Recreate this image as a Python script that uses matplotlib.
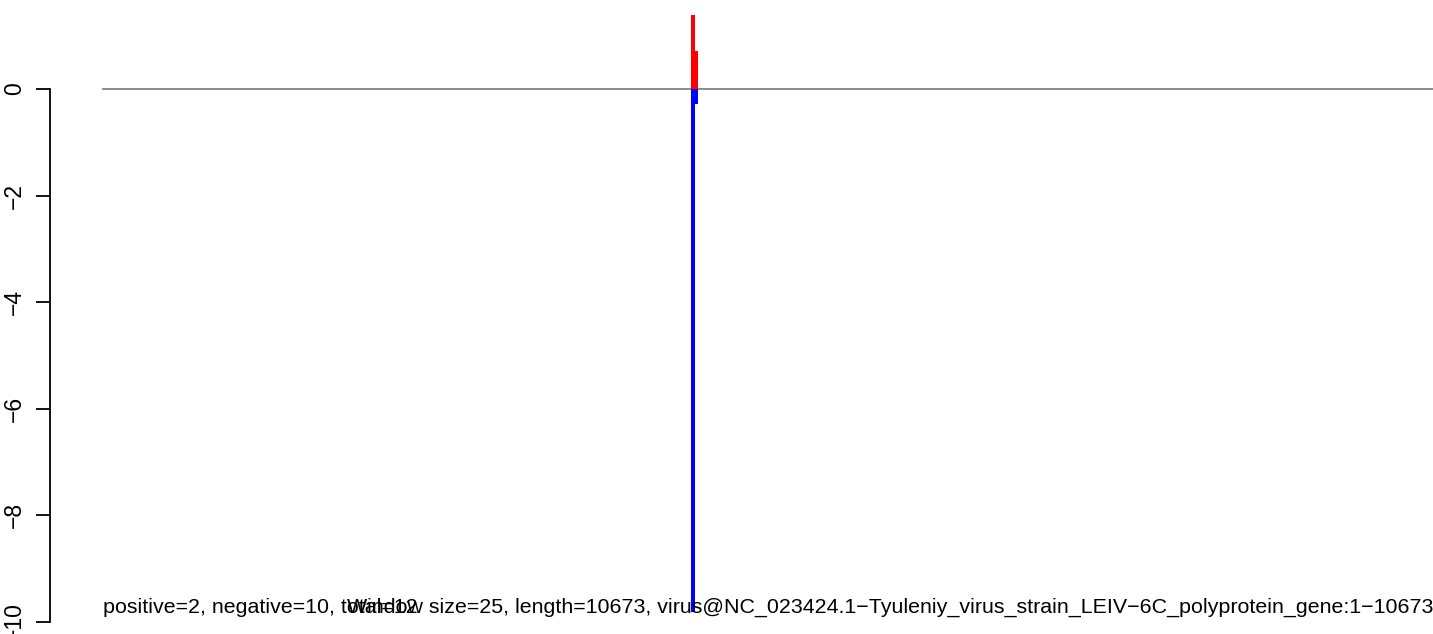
import matplotlib
matplotlib.use("Agg")
import matplotlib.pyplot as plt

plt.rcParams['font.family'] = ['Liberation Sans', 'DejaVu Sans']

# data
seq_len = 10673
win_pos = [4735, 4763]
pos_vals = [1.39, 0.71]
neg_vals = [-9.81, -0.28]
yticks = [0, -2, -4, -6, -8, -10]
left_note = "positive=2, negative=10, total=12"
right_note = ("Window size=25, length=10673, "
              "virus@NC_023424.1\u2212Tyuleniy_virus_strain_LEIV\u22126C_polyprotein_gene:1\u221210673")

W, H = 1433, 634
fig = plt.figure(figsize=(W / 100, H / 100), dpi=100)

# plot region runs a bit past the image edge (like the R original)
s = 1330 / (seq_len - 1)           # px per unit on x
ext = 0.04 * (seq_len - 1)
left_px = 103 - ext * s
right_px = 1433 + ext * s
ax = fig.add_axes([left_px / W, 0, (right_px - left_px) / W, 1])
ax.set_xlim(1 - ext, seq_len + ext)
ypx = 53.3                          # px per unit on y
ax.set_ylim(-(H - 89) / ypx, 89 / ypx)

ax.plot([1, seq_len], [0, 0], color="#8c8c8c", lw=1.4, zorder=1)
ax.bar(win_pos, pos_vals, width=28, color="#ff0000", zorder=2)
ax.bar(win_pos, neg_vals, width=28, color="#0000ff", zorder=2)

ax.text(1, -9.83, left_note, ha="left", va="baseline", fontsize=15.4)
ax.text(seq_len, -9.83, right_note, ha="right", va="baseline", fontsize=15.4)

for side in ["top", "right", "bottom"]:
    ax.spines[side].set_visible(False)
ax.spines["left"].set_bounds(-10, 0)
ax.spines["left"].set_linewidth(1.3)
ax.set_xticks([])
ax.set_yticks(yticks)
ax.set_yticklabels([str(t).replace("-", "\u2212") for t in yticks],
                   rotation=90, va="center", fontsize=16.5)
ax.tick_params(axis="y", length=10, width=1.3, pad=7)
ax.patch.set_alpha(0)

fig.savefig("out.png", dpi=100)
